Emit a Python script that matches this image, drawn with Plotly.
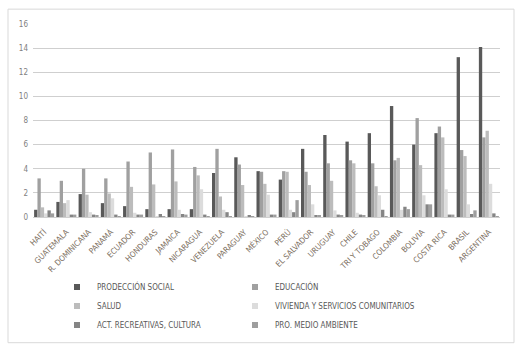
import plotly.graph_objects as go

countries = ["HAITÍ", "GUATEMALA", "R. DOMINICANA", "PANAMÁ", "ECUADOR", "HONDURAS",
             "JAMAICA", "NICARAGUA", "VENEZUELA", "PARAGUAY", "MÉXICO", "PERÚ",
             "EL SALVADOR", "URUGUAY", "CHILE", "TRI Y TOBAGO", "COLOMBIA", "BOLIVIA",
             "COSTA RICA", "BRASIL", "ARGENTINA"]

proteccion_social = [0.6, 1.25, 1.9, 1.15, 0.9, 0.65, 0.65, 0.65, 3.65, 4.95, 3.8, 3.1,
                     5.65, 6.8, 6.25, 6.95, 9.2, 6.0, 6.95, 13.25, 14.1]
educacion = [3.2, 3.0, 4.0, 3.2, 4.6, 5.35, 5.6, 4.15, 5.65, 4.35, 3.75, 3.8,
             3.75, 4.45, 4.7, 4.45, 4.7, 8.2, 7.5, 5.55, 6.6]
salud = [0.8, 1.15, 1.85, 1.95, 2.5, 2.7, 2.95, 3.45, 1.7, 2.65, 2.75, 3.75,
         2.65, 3.0, 4.45, 2.55, 4.9, 4.3, 6.6, 5.05, 7.15]
vivienda = [0.3, 1.4, 0.4, 1.55, 0.35, 0.05, 0.6, 2.3, 0.6, 0.05, 1.85, 0.6,
            1.05, 0.55, 0.35, 1.8, 0.6, 1.8, 2.3, 1.05, 2.75]
act_recreativas = [0.55, 0.2, 0.2, 0.2, 0.2, 0.25, 0.25, 0.2, 0.4, 0.1, 0.2, 0.4,
                   0.15, 0.2, 0.2, 0.6, 0.85, 1.05, 0.2, 0.25, 0.3]
medio_ambiente = [0.3, 0.2, 0.15, 0.05, 0.2, 0.05, 0.2, 0.05, 0.05, 0.05, 0.2, 1.4,
                  0.15, 0.1, 0.1, 0.05, 0.65, 1.05, 0.2, 0.55, 0.05]

series_names = ["PRODECCIÓN SOCIAL", "EDUCACIÓN", "SALUD",
                "VIVIENDA Y SERVICIOS COMUNITARIOS", "ACT. RECREATIVAS, CULTURA",
                "PRO. MEDIO AMBIENTE"]
series_values = [proteccion_social, educacion, salud, vivienda, act_recreativas, medio_ambiente]
colors = ["#595959", "#a0a0a0", "#bcbcbc", "#dcdcdc", "#858585", "#9e9e9e"]
legend_column = ["legend", "legend2", "legend", "legend2", "legend", "legend2"]

FONT = "Liberation Sans Narrow, DejaVu Sans Condensed, Roboto, sans-serif"

fig = go.Figure()
for name, vals, c in zip(series_names, series_values, colors):
    fig.add_trace(go.Bar(x=countries, y=vals, name=name, marker_color=c,
                         marker_line_width=0, showlegend=False, legendgroup=name))
# legend-only entries with small square swatches, in two columns
for name, c, lg in zip(series_names, colors, legend_column):
    fig.add_trace(go.Scatter(x=[None], y=[None], mode="markers", name=name,
                             legendgroup=name, legend=lg,
                             marker=dict(symbol="square", size=6, color=c)))

W, H = 523, 352
ml, mr, mt, mb = 33, 23, 24, 133
pw = W - ml - mr
ph = H - mt - mb

def px_x(p):
    return (p - ml) / pw

def px_y(p):
    return (H - mb - p) / ph

leg_common = dict(orientation="v", xanchor="left", y=px_y(275), yanchor="top",
                  itemwidth=30, tracegroupgap=0,
                  font=dict(family=FONT, size=8, color="#595959"),
                  bgcolor="rgba(0,0,0,0)", traceorder="normal")

fig.update_layout(
    width=W, height=H,
    margin=dict(l=ml, r=mr, t=mt, b=mb),
    paper_bgcolor="white", plot_bgcolor="white",
    barmode="group", bargap=0.1, bargroupgap=0,
    font=dict(family=FONT, size=8, color="#7f7f7f"),
    showlegend=True,
    legend=dict(x=px_x(57), **leg_common),
    legend2=dict(x=px_x(235), **leg_common),
    xaxis=dict(tickangle=-45, showgrid=False, showline=False, ticks="",
               ticklabelstandoff=8,
               tickfont=dict(family=FONT, size=8, color="#7d705f")),
    yaxis=dict(range=[0, 16], dtick=2, showgrid=True, gridcolor="#cfcfcf", gridwidth=1,
               zeroline=True, zerolinecolor="#cfcfcf", zerolinewidth=1,
               showline=False, ticks="", ticklabelstandoff=4,
               tickfont=dict(family=FONT, size=8, color="#7f7f7f")),
    shapes=[dict(type="rect", xref="paper", yref="paper",
                 x0=px_x(8), x1=px_x(514), y0=px_y(346), y1=px_y(9),
                 line=dict(color="#d9d9d9", width=1), fillcolor="rgba(0,0,0,0)",
                 layer="below")],
)

fig.write_html("out.html")
